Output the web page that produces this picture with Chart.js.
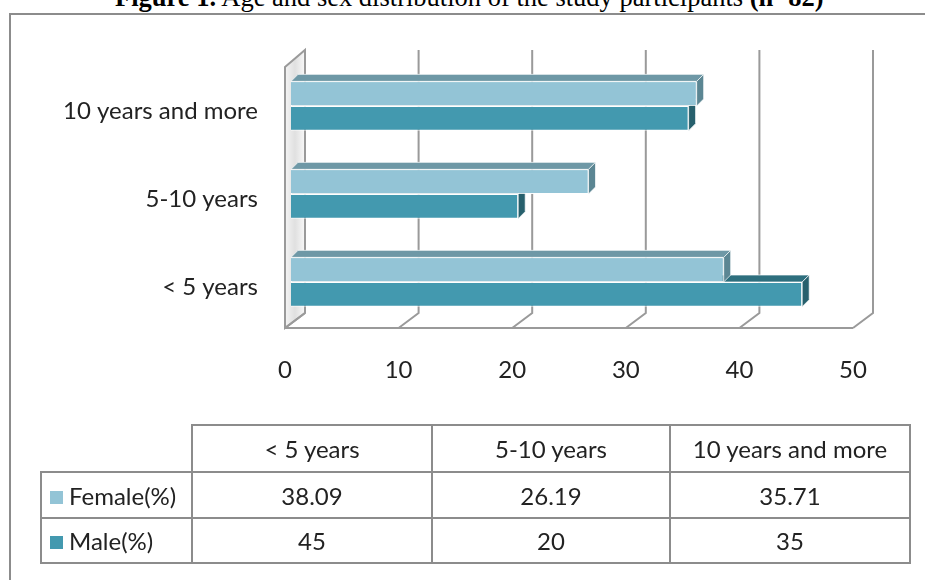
<!DOCTYPE html>
<html>
<head>
<meta charset="utf-8">
<script src="https://cdn.jsdelivr.net/npm/chart.js@4"></script>
<style>
  body { margin: 0; background: #fff; }
  #wrap { position: relative; width: 925px; height: 580px; overflow: hidden; }
  #frame { position: absolute; left: 9px; top: 13px; width: 960px; height: 600px; border: 2px solid #8c8c8c; }
  #title { position: absolute; left: 115px; top: -16px; font: 26.5px/26.5px "Liberation Serif", serif; white-space: nowrap; color: #000; }
  canvas { position: absolute; left: 0; top: 0; }
  #tbl { position: absolute; left: 40px; top: 424px; width: 870px; table-layout: fixed; border-collapse: collapse; font: 24px "Lato", sans-serif; color: #222; }
  #tbl td { border: 2px solid #8c8c8c; text-align: center; padding: 0; white-space: nowrap; }
  #tbl td.corner { border-top: none; border-left: none; }
  #tbl td.name { text-align: left; padding-left: 8px; }
  .sw { display: inline-block; width: 13px; height: 13px; margin-right: 6px; vertical-align: 1px; }
</style>
</head>
<body>
<div id="wrap">
  <div id="frame"></div>
  <div id="title"><b>Figure 1.</b> Age and sex distribution of the study participants <b>(n=82)</b></div>
  <canvas id="chart" width="925" height="580"></canvas>
  <table id="tbl"></table>
</div>
<script>
// data
const categories = ['< 5 years', '5-10 years', '10 years and more'];
const seriesNames = ['Female(%)', 'Male(%)'];
const femaleValues = [38.09, 26.19, 35.71];
const maleValues = [45, 20, 35];

const femaleColor = '#93c4d6';
const maleColor = '#4399af';
const faceColors = [
    { top: '#6e98a6', side: '#5b8693' },
    { top: '#2e6f7e', side: '#27606d' }
];
const textColor = '#222';
const font = { family: 'Lato', size: 24 };

// 3d look: bar depth and the floor / back wall shift
const barDx = 7, barDy = -7;
const frontDx = -6, backDx = 14, backDy = -15, wallTop = 50, wallFrontTop = 67;

function faces(ctx, bar, colors) {
    const { x, y, base, height } = bar.getProps(['x', 'y', 'base', 'height'], true);
    const top = y - height / 2, bottom = y + height / 2;
    ctx.strokeStyle = 'rgba(255,255,255,0.7)';
    ctx.lineWidth = 1;
    ctx.beginPath();
    ctx.moveTo(base, top);
    ctx.lineTo(x, top);
    ctx.lineTo(x + barDx, top + barDy);
    ctx.lineTo(base + barDx, top + barDy);
    ctx.closePath();
    ctx.fillStyle = colors.top;
    ctx.fill();
    ctx.stroke();
    ctx.beginPath();
    ctx.moveTo(x, top);
    ctx.lineTo(x + barDx, top + barDy);
    ctx.lineTo(x + barDx, bottom + barDy);
    ctx.lineTo(x, bottom);
    ctx.closePath();
    ctx.fillStyle = colors.side;
    ctx.fill();
    ctx.stroke();
}

const box3d = {
    id: 'box3d',
    beforeDatasetsDraw(chart) {
        const { ctx, chartArea, scales: { x } } = chart;
        const fy = chartArea.bottom + 2;
        const by = chartArea.bottom + backDy + 2;
        const x0 = x.getPixelForValue(0);
        ctx.save();
        ctx.strokeStyle = '#9a9a9a';
        ctx.lineWidth = 2;
        const grad = ctx.createLinearGradient(x0 + frontDx, 0, x0 + backDx, 0);
        grad.addColorStop(0, '#f4f4f4');
        grad.addColorStop(0.5, '#e0e0e0');
        grad.addColorStop(1, '#f8f8f8');
        ctx.beginPath();
        ctx.moveTo(x0 + frontDx, wallFrontTop);
        ctx.lineTo(x0 + backDx, wallTop);
        ctx.lineTo(x0 + backDx, by);
        ctx.lineTo(x0 + frontDx, fy);
        ctx.closePath();
        ctx.fillStyle = grad;
        ctx.fill();
        ctx.stroke();
        ctx.beginPath();
        ctx.moveTo(x0 + frontDx, fy);
        ctx.lineTo(x.getPixelForValue(x.max) + frontDx, fy);
        ctx.stroke();
        x.ticks.forEach(t => {
            const p = x.getPixelForValue(t.value);
            ctx.beginPath();
            ctx.moveTo(p + frontDx, fy);
            ctx.lineTo(p + backDx, by);
            if (t.value > 0) ctx.lineTo(p + backDx, wallTop);
            ctx.stroke();
        });
        ctx.restore();
    },
    afterDatasetsDraw(chart) {
        const ctx = chart.ctx;
        const fem = chart.getDatasetMeta(0).data;
        const mal = chart.getDatasetMeta(1).data;
        ctx.save();
        for (let i = 0; i < fem.length; i++) {
            faces(ctx, mal[i], faceColors[1]);
            fem[i].draw(ctx);
            faces(ctx, fem[i], faceColors[0]);
        }
        ctx.restore();
    }
};

// top of the chart is the last category
const labels = [...categories].reverse();

new Chart(document.getElementById('chart'), {
    type: 'bar',
    data: {
        labels: labels,
        datasets: [
            { label: seriesNames[0], data: [...femaleValues].reverse(), backgroundColor: femaleColor },
            { label: seriesNames[1], data: [...maleValues].reverse(), backgroundColor: maleColor }
        ]
    },
    options: {
        indexAxis: 'y',
        responsive: false,
        animation: false,
        categoryPercentage: 0.56,
        barPercentage: 1,
        borderColor: 'rgba(255,255,255,0.8)',
        borderWidth: 1,
        layout: { padding: { top: 62, right: 66, bottom: 0, left: 0 } },
        plugins: { legend: { display: false }, tooltip: { enabled: false } },
        scales: {
            x: {
                min: 0, max: 50,
                ticks: { stepSize: 10, padding: 30, labelOffset: -6, font: font, color: textColor },
                grid: { display: false, drawTicks: false },
                border: { display: false },
                afterFit(s) { s.height = 254; }
            },
            y: {
                ticks: { padding: 33, labelOffset: 5, font: font, color: textColor },
                grid: { display: false, drawTicks: false },
                border: { display: false },
                afterFit(s) { s.width = 291; }
            }
        }
    },
    plugins: [box3d]
});

// data table under the chart
const tbl = document.getElementById('tbl');
const colW = [151, 240, 238, 240];
const rowH = [47, 46, 45];
let html = '<colgroup>' + colW.map(w => '<col style="width:' + w + 'px">').join('') + '</colgroup>';
html += '<tr style="height:' + rowH[0] + 'px"><td class="corner"></td>';
categories.forEach(c => { html += '<td>' + c + '</td>'; });
html += '</tr>';
[[femaleValues, femaleColor], [maleValues, maleColor]].forEach(([vals, col], r) => {
    html += '<tr style="height:' + rowH[r + 1] + 'px"><td class="name"><span class="sw" style="background:' + col + '"></span>' + seriesNames[r] + '</td>';
    vals.forEach(v => { html += '<td>' + v + '</td>'; });
    html += '</tr>';
});
tbl.innerHTML = html;
</script>
</body>
</html>
